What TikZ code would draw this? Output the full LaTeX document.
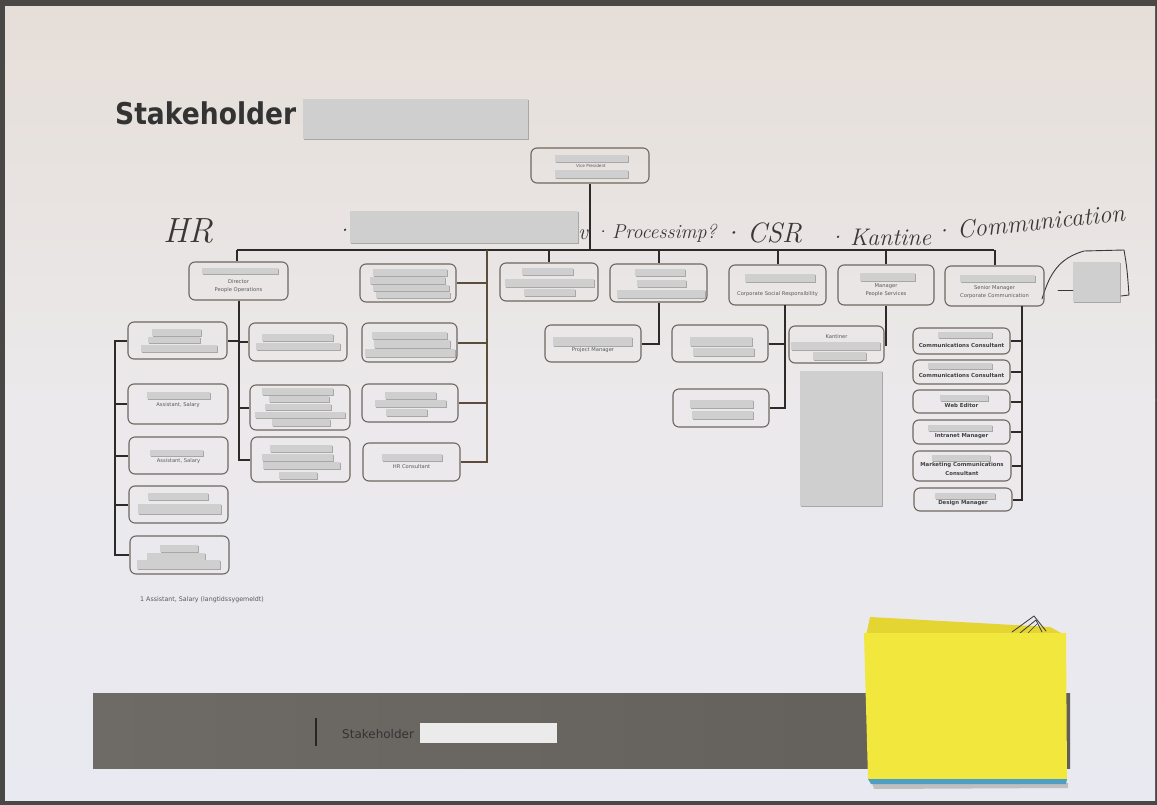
\documentclass[tikz,border=0pt]{standalone}
\usepackage{fontspec}
\newfontfamily\sans{DejaVu Sans}
\usetikzlibrary{fit,calc}
\definecolor{outside}{HTML}{4A4846}
\definecolor{paperA}{HTML}{E6DED8}
\definecolor{paperM}{HTML}{EBE9EB}
\definecolor{paperB}{HTML}{E9E9F1}
\definecolor{boxline}{HTML}{6E6760}
\definecolor{lineC}{HTML}{2E2A27}
\definecolor{lineB}{HTML}{5C4C3B}
\definecolor{redact}{HTML}{CFCFCF}
\definecolor{redshadow}{HTML}{A9A7A5}
\definecolor{bandC}{HTML}{625E5A}
\definecolor{bandD}{HTML}{6E6A66}
\definecolor{sticky}{HTML}{F2E73C}
\definecolor{sticky2}{HTML}{E4D533}
\definecolor{stickyB}{HTML}{4F9FC4}
\definecolor{inkC}{HTML}{3A3836}
\newcommand\obox[5]{\node[box, fit={(#2,#3) (#4,#5)}] (#1) {};}
\newcommand\redbar[4]{\fill[redshadow] (#1+0.7,#2+0.9) rectangle (#3+0.7,#4+0.9); \fill[redact] (#1,#2) rectangle (#3,#4);}
\tikzset{
  box/.style={draw=boxline, line width=1.1pt, rounded corners=6pt, inner sep=0pt},
  conn/.style={draw=lineC, line width=2pt},
  connb/.style={draw=lineB, line width=2pt},
  lbl/.style={font=\sans\fontsize{5.2}{6}\selectfont, text=black!65, inner sep=0pt},
  lblb/.style={font=\sans\bfseries\fontsize{5.4}{6}\selectfont, text=black!75, inner sep=0pt},
  hand/.style={font=\itshape\fontsize{#1}{#1}\selectfont, text=inkC, anchor=base west, inner sep=0pt},
  pen/.style={draw=inkC, line width=0.9pt, line cap=round, line join=round},
}
\begin{document}
\begin{tikzpicture}[x=1pt,y=-1pt]
\useasboundingbox (0,0) rectangle (1157,805);
% photo background and paper
\fill[outside] (0,0) rectangle (1157,805);
\shade[top color=paperA, bottom color=paperM] (5,7) rectangle (1155,400);
\shade[top color=paperM, bottom color=paperB] (5,399.5) rectangle (1155,800);

% title
\node[font=\sans\bfseries\fontsize{30}{30}\selectfont, text=black!80, anchor=base west, inner sep=0pt, xscale=0.885, transform shape] (title) at (115,125) {Stakeholder};
\fill[redshadow] (304,100) rectangle (529,140);
\fill[redact] (303,99) rectangle (528,139);

% handwriting
\node[hand=35] (hHR) at (163,243) {HR};
\node[hand=24] (hdot) at (334,239) {·};
\fill[redshadow] (351,212) rectangle (579,244);
\fill[redact] (350,211) rectangle (578,243);
\node[hand=22] (hv) at (578,240) {v};
\node[hand=20] (hproc) at (594,239) {·\kern3pt Processimp?};
\node[hand=28] (hcsr) at (721,243) {·\kern5pt CSR};
\node[hand=24] (hkant) at (827,246) {·\kern5pt Kantine};
\node[hand=25, rotate=6] (hcomm) at (934,241) {·\kern5pt Communication};
% bracket and grey square near communication
\fill[redshadow] (1074,263) rectangle (1121,303);
\fill[redact] (1073,262) rectangle (1120,302);
\draw[pen] (1042,299) .. controls (1050,272) and (1060,258) .. (1084,251) -- (1124,250) .. controls (1127,268) .. (1129,295) -- (1121,296);
\draw[pen] (1058,290) -- (1073,290);

% vice president
\obox{vp}{531}{148}{649}{183}
\redbar{555}{155}{628}{162}
\redbar{555}{170}{628}{178}
\node[lbl, font=\sans\fontsize{4.2}{5}\selectfont] (tvp) at (591,166) {Vice President};

% bus
\coordinate (busL) at (237,250);
\coordinate (busR) at (994,250);
\draw[conn, line width=2.4pt] (busL) -- (busR);
\draw[conn] (vp.south) -- (vp.south |- busL);

% row 1
\obox{dir}{189}{262}{288}{300}
\redbar{202}{268}{278}{274}
\node[lbl] (tdir1) at (238.5,282) {Director};
\node[lbl] (tdir2) at (238.5,290) {People Operations};

\obox{hra}{360}{264}{456}{302}
\redbar{373}{269}{447}{276}
\redbar{370}{277}{445}{284}
\redbar{373}{285}{449}{291}
\redbar{376}{292}{450}{298}

\obox{pj}{500}{263}{598}{301}
\redbar{522}{268}{573}{275}
\redbar{505}{279}{594}{287}
\redbar{524}{289}{575}{296}

\obox{pi}{610}{264}{707}{302}
\redbar{635}{269}{685}{276}
\redbar{637}{280}{686}{287}
\redbar{617}{290}{705}{298}

\obox{csr}{729}{265}{826}{305}
\redbar{745}{274}{815}{282}
\node[lbl] (tcsr) at (777.5,294) {Corporate Social Responsibility};

\obox{mps}{838}{265}{934}{305}
\redbar{860}{273}{915}{281}
\node[lbl] (tmps1) at (886,286) {Manager};
\node[lbl] (tmps2) at (886,294) {People Services};

\obox{smc}{945}{266}{1044}{306}
\redbar{960}{275}{1035}{282}
\node[lbl] (tsmc1) at (994.5,288) {Senior Manager};
\node[lbl] (tsmc2) at (994.5,296) {Corporate Communication};

% bus drops
\draw[conn] (busL) -- (busL |- dir.north);
\draw[conn] (pj.north |- busL) -- (pj.north);
\draw[conn] (pi.north |- busL) -- (pi.north);
\draw[conn] (csr.north |- busL) -- (csr.north);
\draw[conn] (mps.north |- busL) -- (mps.north);
\draw[conn] (smc.north |- busL) -- (smc.north);

% HR column 3
\obox{hrb}{362}{323}{457}{362}
\redbar{372}{332}{447}{339}
\redbar{374}{340}{450}{348}
\redbar{365}{349}{455}{357}
\obox{hrc}{362}{384}{458}{422}
\redbar{385}{392}{436}{399}
\redbar{375}{400}{446}{407}
\redbar{386}{409}{427}{416}
\obox{hrd}{363}{443}{460}{481}
\redbar{382}{454}{442}{461}
\node[lbl] (thrd) at (411.5,467) {HR Consultant};
\coordinate (hrv) at (487,250);
\draw[connb] (hrv) |- (hrd.east);
\draw[connb] (hra.east) -- (hra.east -| hrv);
\draw[connb] (hrb.east) -- (hrb.east -| hrv);
\draw[connb] (hrc.east) -- (hrc.east -| hrv);

% HR column 2
\obox{hc1}{249}{323}{347}{361}
\redbar{262}{334}{333}{341}
\redbar{256}{343}{340}{350}
\obox{hc2}{250}{385}{350}{430}
\redbar{262}{388}{333}{395}
\redbar{269}{396}{329}{402}
\redbar{265}{404}{331}{410}
\redbar{255}{412}{345}{418}
\redbar{272}{419}{330}{426}
\obox{hc3}{251}{437}{350}{482}
\redbar{270}{445}{332}{452}
\redbar{262}{454}{333}{461}
\redbar{263}{462}{340}{469}
\redbar{279}{472}{317}{479}
\draw[conn] (dir.south) |- (hc3.west);
\draw[conn] (hc1.west) -- (hc1.west -| dir.south);
\draw[conn] (hc2.west) -- (hc2.west -| dir.south);

% HR column 1
\obox{ha1}{128}{322}{227}{359}
\redbar{152}{329}{201}{336}
\redbar{148}{337}{200}{343}
\redbar{141}{345}{217}{352}
\obox{ha2}{128}{384}{228}{424}
\redbar{147}{392}{210}{399}
\node[lbl] (tha2) at (178,405) {Assistant, Salary};
\obox{ha3}{129}{437}{228}{474}
\redbar{150}{450}{203}{456}
\node[lbl] (tha3) at (178.5,461) {Assistant, Salary};
\obox{ha4}{129}{486}{228}{523}
\redbar{148}{493}{208}{500}
\redbar{138}{504}{221}{514}
\obox{ha5}{130}{536}{229}{574}
\redbar{160}{545}{198}{552}
\redbar{147}{553}{205}{560}
\redbar{137}{560}{220}{569}
\coordinate (lv) at (115,340);
\draw[conn] (ha1.east) -- (ha1.east -| dir.south);
\draw[conn] (ha1.west) -- (ha1.west -| lv) |- (ha5.west);
\draw[conn] (ha2.west) -- (ha2.west -| lv);
\draw[conn] (ha3.west) -- (ha3.west -| lv);
\draw[conn] (ha4.west) -- (ha4.west -| lv);
\node[lbl, font=\sans\fontsize{6.3}{7}\selectfont, anchor=west] (foot) at (140,600) {1 Assistant, Salary (langtidssygemeldt)};

% project manager
\obox{pm}{545}{325}{641}{362}
\redbar{553}{337}{632}{346}
\node[lbl] (tpm) at (593,350) {Project Manager};
\draw[conn] (pi.south) |- (pm.east);

% CSR children
\obox{csra}{672}{325}{768}{362}
\redbar{690}{337}{752}{346}
\redbar{693}{348}{754}{356}
\obox{csrb}{673}{389}{769}{427}
\redbar{690}{400}{753}{408}
\redbar{692}{411}{753}{419}
\coordinate (csrv) at (785,305);
\draw[conn] (csrv) |- (csrb.east);
\draw[conn] (csra.east) -- (csra.east -| csrv);

% Kantiner
\obox{kant}{789}{326}{884}{363}
\node[lbl] (tkant) at (836.5,337) {Kantiner};
\redbar{791}{342}{880}{350}
\redbar{813}{352}{866}{360}
\draw[conn] (mps.south) |- (kant.east);
\fill[redshadow] (801,372) rectangle (883,507);
\fill[redact] (800,371) rectangle (882,506);

% communication children
\obox{ea}{913}{328}{1010}{354}
\redbar{938}{332}{992}{338}
\node[lblb] (tea) at (961.5,345) {Communications Consultant};
\obox{eb}{913}{360}{1010}{384}
\redbar{928}{363}{992}{369}
\node[lblb] (teb) at (961.5,375) {Communications Consultant};
\obox{ec}{913}{390}{1010}{413}
\redbar{940}{395}{988}{401}
\node[lblb] (tec) at (961.5,405) {Web Editor};
\obox{ed}{913}{420}{1010}{444}
\redbar{928}{425}{992}{431}
\node[lblb] (ted) at (961.5,436) {Intranet Manager};
\obox{ee}{913}{451}{1011}{481}
\redbar{932}{455}{990}{461}
\node[lblb] (tee1) at (962,465) {Marketing Communications};
\node[lblb] (tee2) at (962,473) {Consultant};
\obox{ef}{914}{488}{1012}{511}
\redbar{935}{493}{995}{499}
\node[lblb] (tef) at (963,503) {Design Manager};
\coordinate (smcv) at (1022,306);
\draw[conn] (smcv) |- (ef.east);
\draw[conn] (ea.east) -- (ea.east -| smcv);
\draw[conn] (eb.east) -- (eb.east -| smcv);
\draw[conn] (ec.east) -- (ec.east -| smcv);
\draw[conn] (ed.east) -- (ed.east -| smcv);
\draw[conn] (ee.east) -- (ee.east -| smcv);

% footer band
\shade[left color=bandD, right color=bandC] (93,693) rectangle (1070,768);
\draw[draw=black!85, line width=1.4pt] (316,718) -- (316,746);
\node[font=\sans\fontsize{12}{12}\selectfont, text=black!80, anchor=west, inner sep=0pt] (fstake) at (342,734) {Stakeholder};
\fill[white!92!black] (420,723) rectangle (557,743);

% sticky notes
\fill[black!25] (872,783) -- (1068,783) -- (1068,788) -- (874,789) -- cycle;
\fill[sticky2] (870,617) -- (1050,627) -- (1063,634) -- (866,636) -- cycle;
\draw[pen, line width=0.8pt] (1012,632) -- (1034,616) -- (1046,631);
\draw[pen, line width=0.8pt] (1020,633) -- (1036,620) -- (1042,632);
\draw[pen, line width=0.6pt] (1028,633) -- (1037,624);
\fill[sticky] (864,633) -- (1066,633) -- (1067,779) -- (868,779) -- cycle;
\fill[stickyB] (868,779) -- (1067,779) -- (1066,784) -- (871,784) -- cycle;
\end{tikzpicture}
\end{document}
